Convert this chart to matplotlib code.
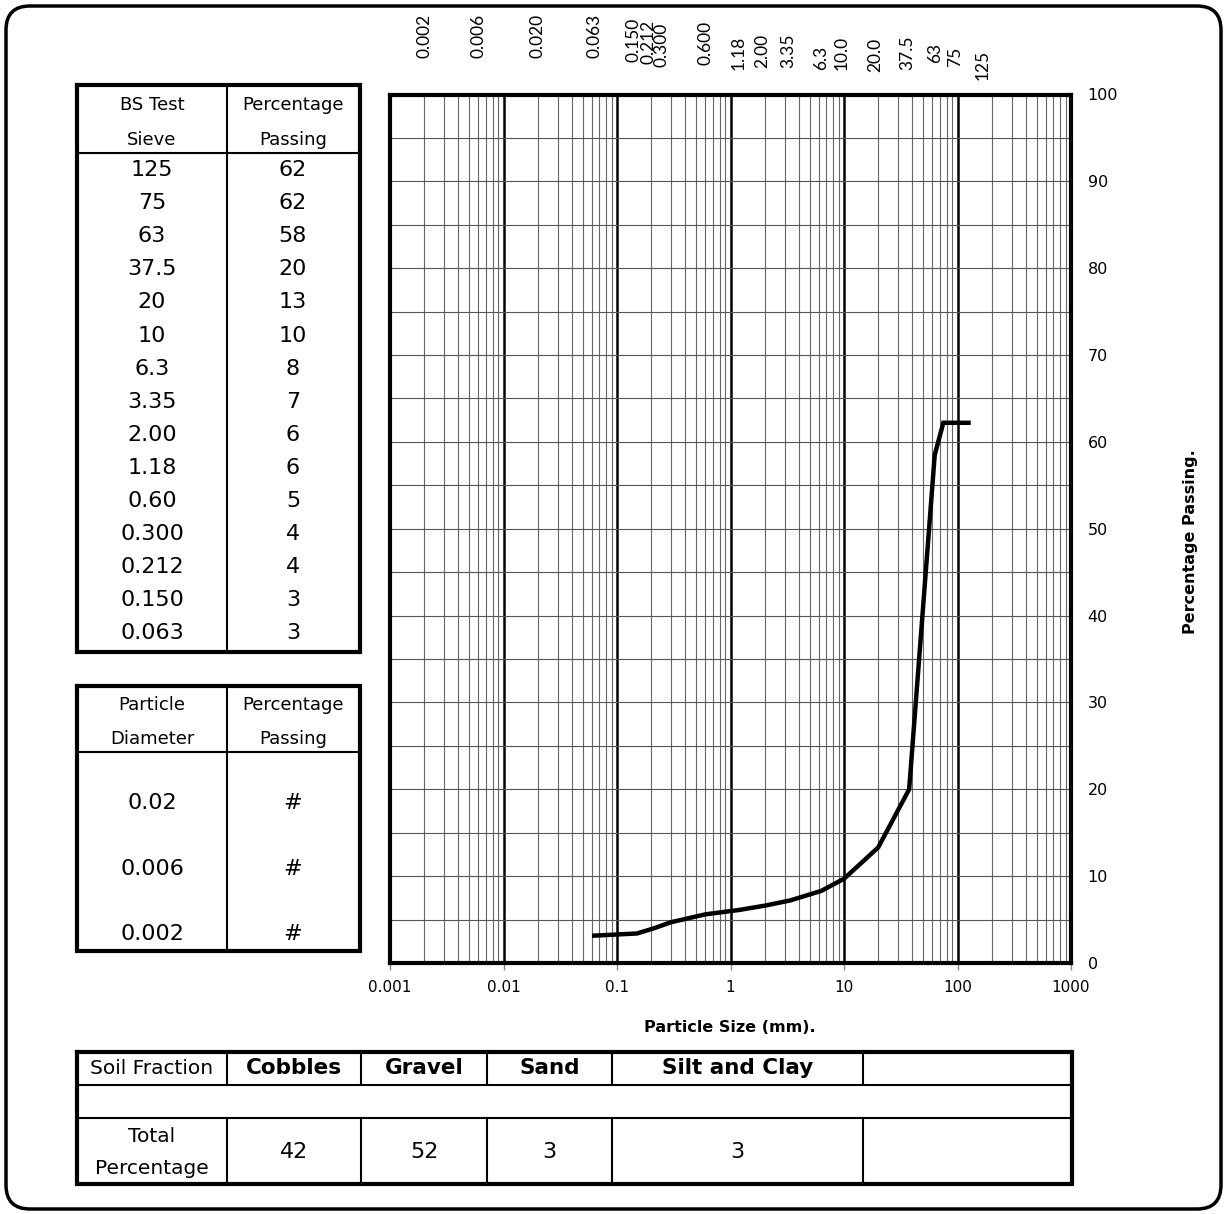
import numpy as np
import matplotlib
matplotlib.use('Agg')
import matplotlib.pyplot as plt
from matplotlib import transforms
from matplotlib.patches import FancyBboxPatch
from matplotlib.ticker import LogLocator, FixedLocator, NullFormatter, MultipleLocator

# Sieve analysis data (table)
sieve_labels = ['125', '75', '63', '37.5', '20', '10', '6.3', '3.35', '2.00',
                '1.18', '0.60', '0.300', '0.212', '0.150', '0.063']
sieve_passing = [62, 62, 58, 20, 13, 10, 8, 7, 6, 6, 5, 4, 4, 3, 3]

# Grading curve as plotted
curve_size = [125, 75, 63, 37.5, 20, 10, 6.3, 3.35, 2.0, 1.18, 0.6, 0.3, 0.212, 0.15, 0.063]
curve_passing = [62.2, 62.2, 58.5, 20.0, 13.3, 9.7, 8.3, 7.2, 6.6, 6.1, 5.6, 4.7, 4.0, 3.4, 3.15]

# Sedimentation table
fine_diameters = ['0.02', '0.006', '0.002']
fine_passing = ['#', '#', '#']

# Soil fraction summary
fractions = ['Cobbles', 'Gravel', 'Sand', 'Silt and Clay']
fraction_totals = [42, 52, 3, 3]

# Sieve size labels along the top
top_labels = ['0.002', '0.006', '0.020', '0.063', '0.150', '0.212', '0.300', '0.600',
              '1.18', '2.00', '3.35', '6.3', '10.0', '20.0', '37.5', '63', '75', '125']
# small nudges (pixels) and label bottoms used in the original sheet
top_dx = [0, 0, 0, 0, -3, -6, -10, 0, 0, -2, -2, 0, -2, -3, -2, 0, 12, 14]
top_bottom = [58, 58, 58, 58, 62, 64, 67, 65, 70, 68, 68, 70, 70, 72, 70, 63, 67, 80]

x_ticks = [0.001, 0.01, 0.1, 1, 10, 100, 1000]
x_ticklabels = ['0.001', '0.01', '0.1', '1', '10', '100', '1000']

W, H = 1228, 1214
fig = plt.figure(figsize=(W / 100, H / 100), dpi=100)
fig.patch.set_facecolor('white')

# background axes in pixel coordinates for tables / frame
bg = fig.add_axes([0, 0, 1, 1], zorder=0)
bg.set_xlim(0, W)
bg.set_ylim(H, 0)
bg.axis('off')

frame = FancyBboxPatch((6, 6), W - 13, H - 11, boxstyle='round,pad=0,rounding_size=24',
                       fc='white', ec='black', lw=2.5)
bg.add_patch(frame)

# main grading plot
L, R, T, B = 390, 1071, 94.5, 963
ax = fig.add_axes([L / W, 1 - B / H, (R - L) / W, (B - T) / H], zorder=1)
ax.set_xscale('log')
ax.set_xlim(1e-3, 1e3)
ax.set_ylim(0, 100)

ax.xaxis.set_major_locator(FixedLocator(x_ticks))
ax.set_xticklabels(x_ticklabels, fontsize=11, family='DejaVu Sans')
ax.xaxis.set_minor_locator(LogLocator(base=10, subs=np.arange(2, 10), numticks=20))
ax.xaxis.set_minor_formatter(NullFormatter())
ax.tick_params(axis='x', which='major', length=5, width=1, color='#888888', pad=7)
ax.tick_params(axis='x', which='minor', length=0)

ax.yaxis.tick_right()
ax.yaxis.set_major_locator(MultipleLocator(10))
ax.yaxis.set_minor_locator(MultipleLocator(5))
ax.tick_params(axis='y', which='both', length=0, pad=12, labelsize=11.5)

ax.grid(which='minor', axis='x', color='#666666', lw=0.8)
ax.grid(which='major', axis='x', color='black', lw=1.8)
ax.grid(which='both', axis='y', color='#555555', lw=0.8)
ax.set_axisbelow(True)
for sp in ax.spines.values():
    sp.set_linewidth(3)

ax.plot(curve_size, curve_passing, color='black', lw=3.2, solid_joinstyle='miter', zorder=5)

bg.text(730, 1028, 'Particle Size (mm).', ha='center', va='center', fontsize=11.5, fontweight='bold')
bg.text(1190, 542, 'Percentage Passing.', ha='center', va='center', rotation=90,
        fontsize=11.5, fontweight='bold')

# sieve labels along the top, placed on the log scale
blend = transforms.blended_transform_factory(ax.transData, bg.transData)
for lab, dx, yb in zip(top_labels, top_dx, top_bottom):
    tr = transforms.offset_copy(blend, fig=fig, x=dx, y=0, units='dots')
    bg.text(float(lab), yb, lab, transform=tr, rotation=90, ha='center', va='bottom',
            fontsize=12.5, family='Lato', clip_on=False)


def box(x0, y0, x1, y1, lw=3):
    bg.plot([x0, x1, x1, x0, x0], [y0, y0, y1, y1, y0], color='black', lw=lw,
            solid_joinstyle='miter', solid_capstyle='projecting')


def hline(x0, x1, y, lw=1.5):
    bg.plot([x0, x1], [y, y], color='black', lw=lw)


def vline(x, y0, y1, lw=1.5):
    bg.plot([x, x], [y0, y1], color='black', lw=lw)


# sieve table
box(77, 85, 360, 652)
vline(227, 85, 652)
hline(77, 360, 153)
bg.text(152, 105, 'BS Test', ha='center', va='center', fontsize=13)
bg.text(152, 140, 'Sieve', ha='center', va='center', fontsize=13)
bg.text(293, 105, 'Percentage', ha='center', va='center', fontsize=13)
bg.text(293, 140, 'Passing', ha='center', va='center', fontsize=13)
for i, (s, p) in enumerate(zip(sieve_labels, sieve_passing)):
    y = 170 + i * 33.1
    bg.text(152, y, s, ha='center', va='center', fontsize=16)
    bg.text(293, y, str(p), ha='center', va='center', fontsize=16)

# sedimentation table
box(77, 686, 360, 951)
vline(227, 686, 951)
hline(77, 360, 752)
bg.text(152, 705, 'Particle', ha='center', va='center', fontsize=13)
bg.text(152, 739, 'Diameter', ha='center', va='center', fontsize=13)
bg.text(293, 705, 'Percentage', ha='center', va='center', fontsize=13)
bg.text(293, 739, 'Passing', ha='center', va='center', fontsize=13)
for d, p, y in zip(fine_diameters, fine_passing, [803, 869, 934]):
    bg.text(152, y, d, ha='center', va='center', fontsize=16)
    bg.text(293, y, p, ha='center', va='center', fontsize=16)

# soil fraction table
cols = [77, 227, 361, 487, 612, 863, 1072]
box(77, 1052, 1072, 1184)
hline(77, 1072, 1085)
hline(77, 1072, 1118)
for x in cols[1:-1]:
    vline(x, 1052, 1085)
    vline(x, 1118, 1184)
bg.text(152, 1069, 'Soil Fraction', ha='center', va='center', fontsize=14.5)
bg.text(152, 1137, 'Total', ha='center', va='center', fontsize=14.5)
bg.text(152, 1168, 'Percentage', ha='center', va='center', fontsize=14.5)
for i, (f, t) in enumerate(zip(fractions, fraction_totals)):
    cx = (cols[i + 1] + cols[i + 2]) / 2
    bg.text(cx, 1068, f, ha='center', va='center', fontsize=15.5, fontweight='bold')
    bg.text(cx, 1152, str(t), ha='center', va='center', fontsize=16)

fig.savefig('out.png', dpi=100, facecolor='white')
